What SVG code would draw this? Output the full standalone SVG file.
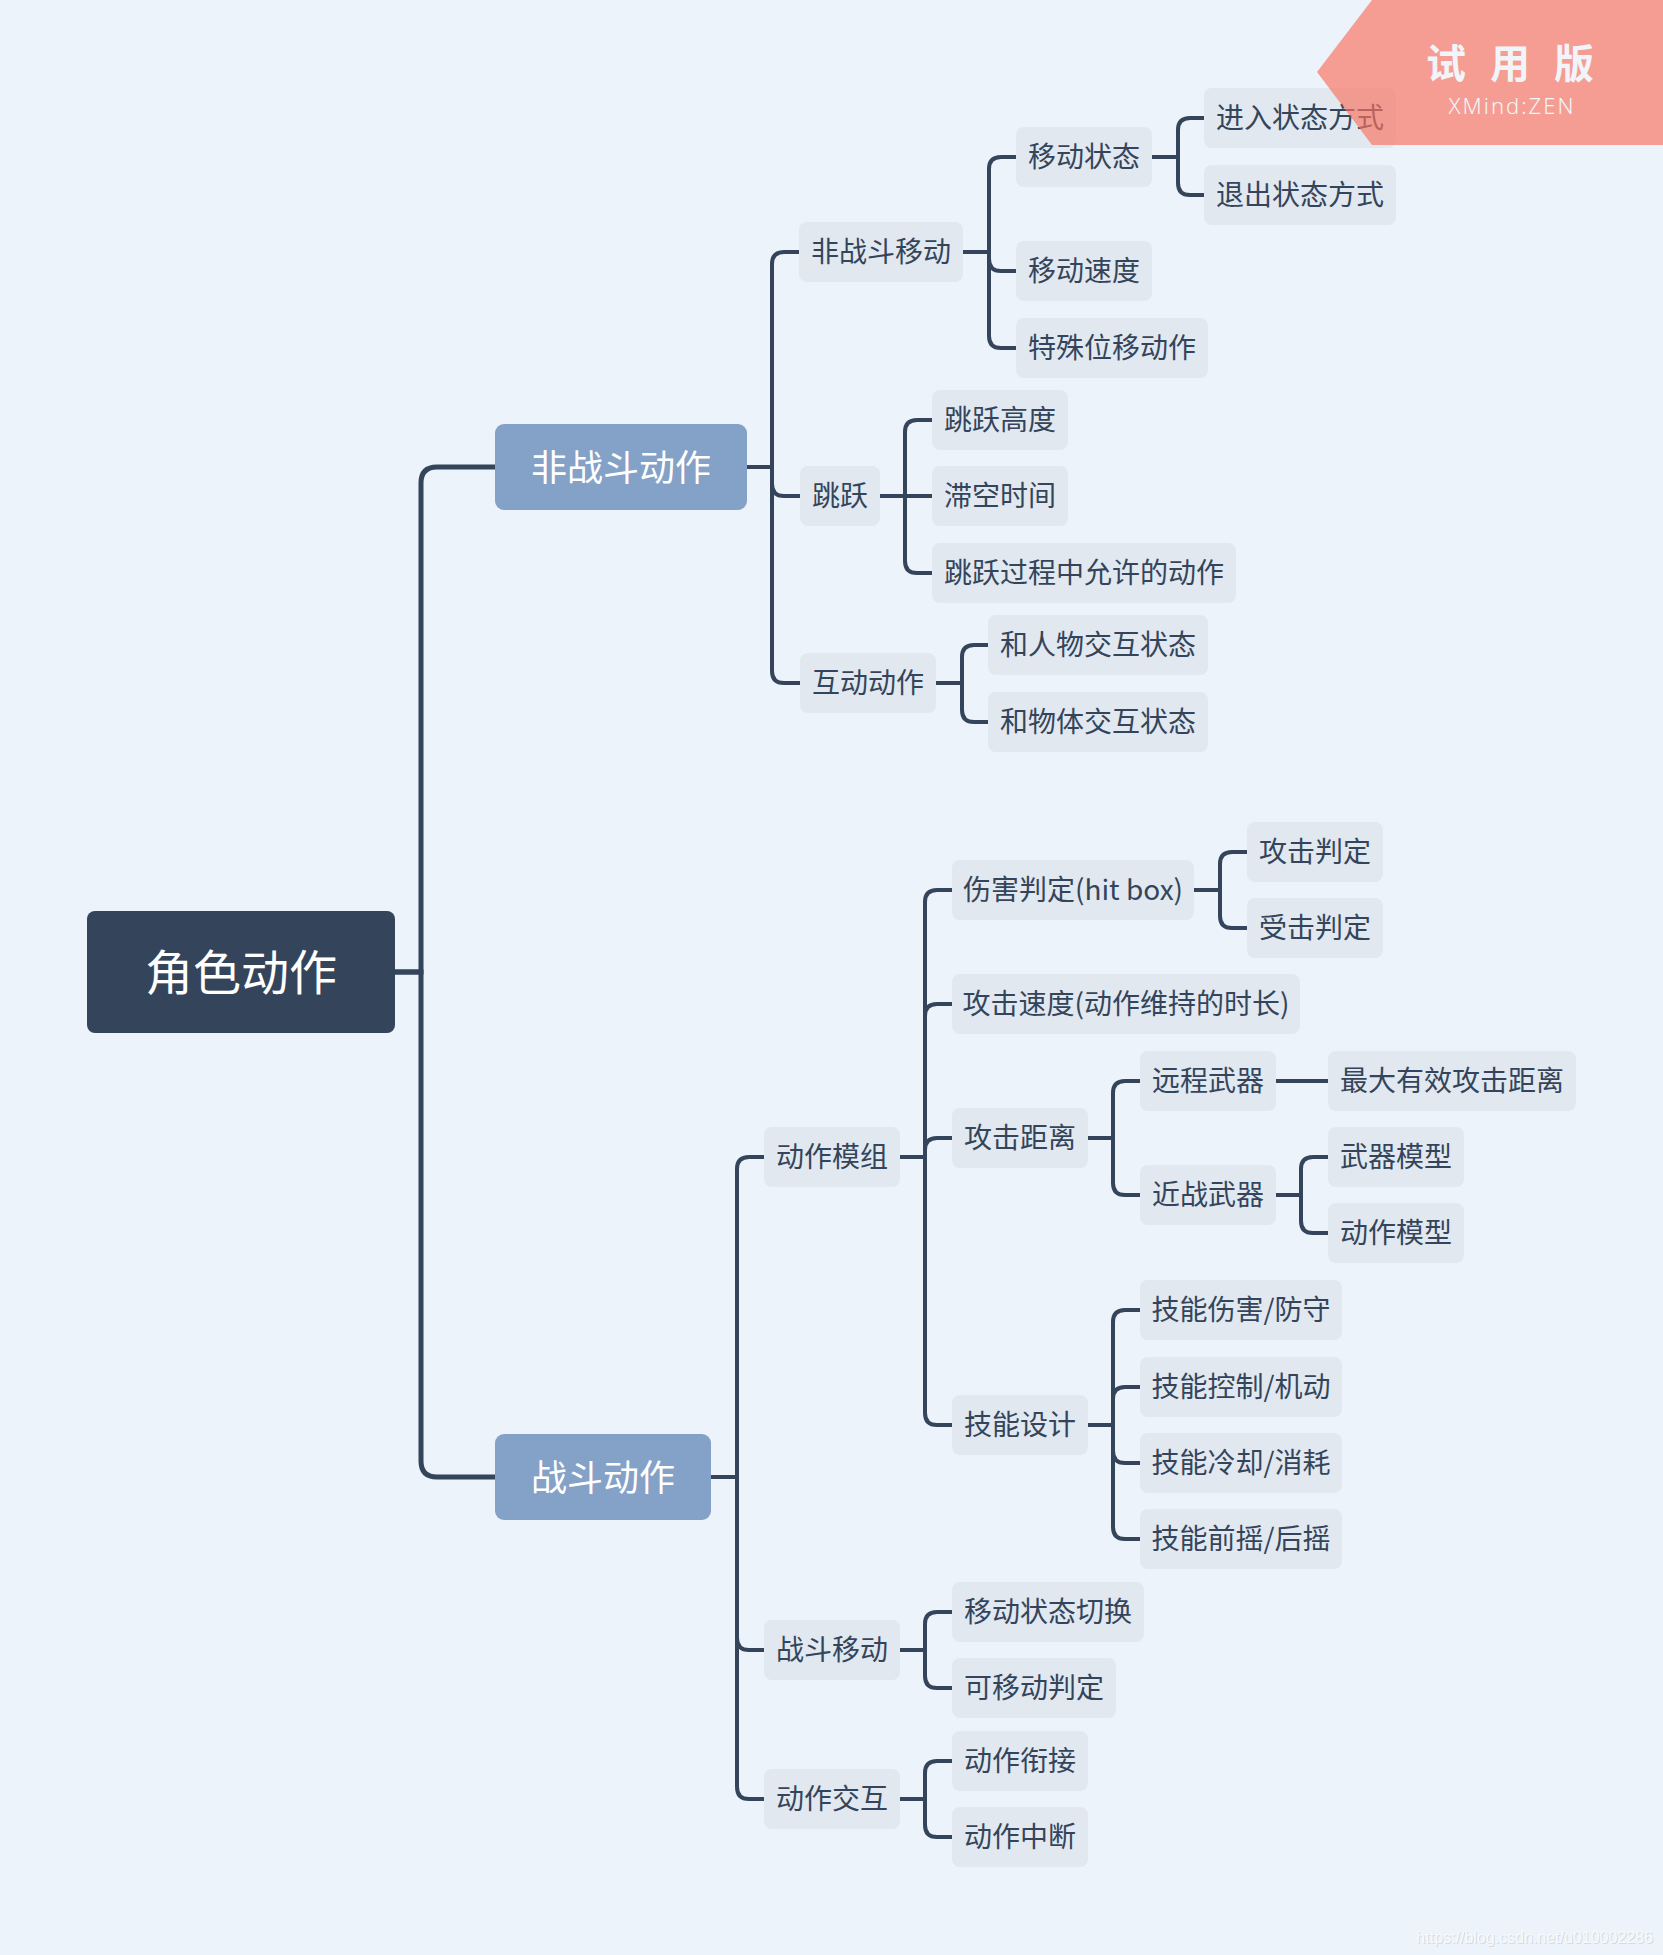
<svg xmlns="http://www.w3.org/2000/svg" width="1663" height="1955" viewBox="0 0 1663 1955">
<style>
.bg{fill:#ECF3FA}
.t rect{fill:#E1E8F0}
.t text{font-family:"Noto Sans CJK SC","Noto Sans",sans-serif;font-size:28px;fill:#34455B;text-anchor:middle}
.l1 rect{fill:#84A1C8}
.l1 text{font-family:"Noto Sans CJK SC","Noto Sans",sans-serif;font-size:36px;fill:#FFFFFF;text-anchor:middle}
.root rect{fill:#34455B}
.root text{font-family:"Noto Sans CJK SC","Noto Sans",sans-serif;font-size:48px;fill:#FFFFFF;text-anchor:middle}
#connectors path{fill:none;stroke:#34455B;stroke-width:4}
#connectors path.main{stroke-width:5}
</style>
<rect class="bg" x="0" y="0" width="1663" height="1955"/>

<g id="connectors">
<path class="main" d="M395,972 H421 V483 Q421,467 437,467 H495"/>
<path class="main" d="M395,972 H421 V1461 Q421,1477 437,1477 H495"/>
<path d="M747,467 H772 V264 Q772,252 784,252 H799"/>
<path d="M747,467 H772 V484 Q772,496 784,496 H800"/>
<path d="M747,467 H772 V671 Q772,683 784,683 H800"/>
<path d="M963,252 H989 V169 Q989,157 1001,157 H1016"/>
<path d="M963,252 H989 V259 Q989,271 1001,271 H1016"/>
<path d="M963,252 H989 V336 Q989,348 1001,348 H1016"/>
<path d="M1152,157 H1178 V130 Q1178,118 1190,118 H1204"/>
<path d="M1152,157 H1178 V183 Q1178,195 1190,195 H1204"/>
<path d="M880,496 H905 V432 Q905,420 917,420 H932"/>
<path d="M880,496 H932"/>
<path d="M880,496 H905 V561 Q905,573 917,573 H932"/>
<path d="M936,683 H962 V657 Q962,645 974,645 H988"/>
<path d="M936,683 H962 V710 Q962,722 974,722 H988"/>
<path d="M711,1477 H737 V1169 Q737,1157 749,1157 H764"/>
<path d="M711,1477 H737 V1638 Q737,1650 749,1650 H764"/>
<path d="M711,1477 H737 V1787 Q737,1799 749,1799 H764"/>
<path d="M900,1157 H925 V902 Q925,890 937,890 H952"/>
<path d="M900,1157 H925 V1016 Q925,1004 937,1004 H952"/>
<path d="M900,1157 H925 V1150 Q925,1138 937,1138 H952"/>
<path d="M900,1157 H925 V1413 Q925,1425 937,1425 H952"/>
<path d="M1194,890 H1220 V864 Q1220,852 1232,852 H1247"/>
<path d="M1194,890 H1220 V916 Q1220,928 1232,928 H1247"/>
<path d="M1088,1138 H1113 V1093 Q1113,1081 1125,1081 H1140"/>
<path d="M1088,1138 H1113 V1183 Q1113,1195 1125,1195 H1140"/>
<path d="M1276,1081 H1328"/>
<path d="M1276,1195 H1301 V1169 Q1301,1157 1313,1157 H1328"/>
<path d="M1276,1195 H1301 V1221 Q1301,1233 1313,1233 H1328"/>
<path d="M1088,1425 H1113 V1322 Q1113,1310 1125,1310 H1140"/>
<path d="M1088,1425 H1113 V1399 Q1113,1387 1125,1387 H1140"/>
<path d="M1088,1425 H1113 V1451 Q1113,1463 1125,1463 H1140"/>
<path d="M1088,1425 H1113 V1527 Q1113,1539 1125,1539 H1140"/>
<path d="M900,1650 H925 V1624 Q925,1612 937,1612 H952"/>
<path d="M900,1650 H925 V1676 Q925,1688 937,1688 H952"/>
<path d="M900,1799 H925 V1773 Q925,1761 937,1761 H952"/>
<path d="M900,1799 H925 V1825 Q925,1837 937,1837 H952"/>
</g>

<g id="n-root" class="root"><rect x="87" y="911" width="308" height="122" rx="8"/><text x="241" y="990">角色动作</text></g>

<g id="n-feizhandou" class="l1"><rect x="495" y="424" width="252" height="86" rx="9"/><text x="621" y="481">非战斗动作</text></g>
<g id="n-zhandou" class="l1"><rect x="495" y="1434" width="216" height="86" rx="9"/><text x="603" y="1491">战斗动作</text></g>

<g id="n-fzdyd" class="t"><rect x="799" y="222" width="164" height="60" rx="8"/><text x="881" y="262">非战斗移动</text></g>
<g id="n-tiaoyue" class="t"><rect x="800" y="466" width="80" height="60" rx="8"/><text x="840" y="506">跳跃</text></g>
<g id="n-hudong" class="t"><rect x="800" y="653" width="136" height="60" rx="8"/><text x="868" y="693">互动动作</text></g>

<g id="n-ydzt" class="t"><rect x="1016" y="127" width="136" height="60" rx="8"/><text x="1084" y="167">移动状态</text></g>
<g id="n-ydsd" class="t"><rect x="1016" y="241" width="136" height="60" rx="8"/><text x="1084" y="281">移动速度</text></g>
<g id="n-tswy" class="t"><rect x="1016" y="318" width="192" height="60" rx="8"/><text x="1112" y="358">特殊位移动作</text></g>
<g id="n-jrzt" class="t"><rect x="1204" y="88" width="192" height="60" rx="8"/><text x="1300" y="128">进入状态方式</text></g>
<g id="n-tczt" class="t"><rect x="1204" y="165" width="192" height="60" rx="8"/><text x="1300" y="205">退出状态方式</text></g>

<g id="n-tygd" class="t"><rect x="932" y="390" width="136" height="60" rx="8"/><text x="1000" y="430">跳跃高度</text></g>
<g id="n-zksj" class="t"><rect x="932" y="466" width="136" height="60" rx="8"/><text x="1000" y="506">滞空时间</text></g>
<g id="n-tygc" class="t"><rect x="932" y="543" width="304" height="60" rx="8"/><text x="1084" y="583">跳跃过程中允许的动作</text></g>

<g id="n-hrw" class="t"><rect x="988" y="615" width="220" height="60" rx="8"/><text x="1098" y="655">和人物交互状态</text></g>
<g id="n-hwt" class="t"><rect x="988" y="692" width="220" height="60" rx="8"/><text x="1098" y="732">和物体交互状态</text></g>

<g id="n-dzmz" class="t"><rect x="764" y="1127" width="136" height="60" rx="8"/><text x="832" y="1167">动作模组</text></g>
<g id="n-zdyd" class="t"><rect x="764" y="1620" width="136" height="60" rx="8"/><text x="832" y="1660">战斗移动</text></g>
<g id="n-dzjh" class="t"><rect x="764" y="1769" width="136" height="60" rx="8"/><text x="832" y="1809">动作交互</text></g>

<g id="n-shpd" class="t"><rect x="952" y="860" width="242" height="60" rx="8"/><text x="1073" y="900">伤害判定(hit box)</text></g>
<g id="n-gjsd" class="t"><rect x="952" y="974" width="348" height="60" rx="8"/><text x="1126" y="1014">攻击速度(动作维持的时长)</text></g>
<g id="n-gjjl" class="t"><rect x="952" y="1108" width="136" height="60" rx="8"/><text x="1020" y="1148">攻击距离</text></g>
<g id="n-jnsj" class="t"><rect x="952" y="1395" width="136" height="60" rx="8"/><text x="1020" y="1435">技能设计</text></g>
<g id="n-ydztqh" class="t"><rect x="952" y="1582" width="192" height="60" rx="8"/><text x="1048" y="1622">移动状态切换</text></g>
<g id="n-kydpd" class="t"><rect x="952" y="1658" width="164" height="60" rx="8"/><text x="1034" y="1698">可移动判定</text></g>
<g id="n-dzxj" class="t"><rect x="952" y="1731" width="136" height="60" rx="8"/><text x="1020" y="1771">动作衔接</text></g>
<g id="n-dzzd" class="t"><rect x="952" y="1807" width="136" height="60" rx="8"/><text x="1020" y="1847">动作中断</text></g>

<g id="n-gjpd" class="t"><rect x="1247" y="822" width="136" height="60" rx="8"/><text x="1315" y="862">攻击判定</text></g>
<g id="n-sjpd" class="t"><rect x="1247" y="898" width="136" height="60" rx="8"/><text x="1315" y="938">受击判定</text></g>
<g id="n-ycwq" class="t"><rect x="1140" y="1051" width="136" height="60" rx="8"/><text x="1208" y="1091">远程武器</text></g>
<g id="n-jzwq" class="t"><rect x="1140" y="1165" width="136" height="60" rx="8"/><text x="1208" y="1205">近战武器</text></g>
<g id="n-zdyx" class="t"><rect x="1328" y="1051" width="248" height="60" rx="8"/><text x="1452" y="1091">最大有效攻击距离</text></g>
<g id="n-wqmx" class="t"><rect x="1328" y="1127" width="136" height="60" rx="8"/><text x="1396" y="1167">武器模型</text></g>
<g id="n-dzmx" class="t"><rect x="1328" y="1203" width="136" height="60" rx="8"/><text x="1396" y="1243">动作模型</text></g>
<g id="n-jn1" class="t"><rect x="1140" y="1280" width="202" height="60" rx="8"/><text x="1241" y="1320">技能伤害/防守</text></g>
<g id="n-jn2" class="t"><rect x="1140" y="1357" width="202" height="60" rx="8"/><text x="1241" y="1397">技能控制/机动</text></g>
<g id="n-jn3" class="t"><rect x="1140" y="1433" width="202" height="60" rx="8"/><text x="1241" y="1473">技能冷却/消耗</text></g>
<g id="n-jn4" class="t"><rect x="1140" y="1509" width="202" height="60" rx="8"/><text x="1241" y="1549">技能前摇/后摇</text></g>

<g id="watermark">
<polygon points="1317,72 1372,0 1663,0 1663,145 1372,145" fill="#F97360" fill-opacity="0.67"/>
<text x="1522" y="78" font-family="Noto Sans CJK SC, sans-serif" font-size="40" font-weight="bold" fill="#F1F5F9" text-anchor="middle" letter-spacing="24">试用版</text>
<text x="1512" y="114" font-family="Noto Sans, sans-serif" font-size="22" font-weight="300" fill="#F1F5F9" text-anchor="middle" letter-spacing="2">XMind:ZEN</text>
</g>
<g id="csdn">
<text x="1654" y="1944" font-family="Liberation Sans, sans-serif" font-size="16" fill="#D3DAE1" text-anchor="end">https://blog.csdn.net/u010002286</text>
<text x="1653" y="1943" font-family="Liberation Sans, sans-serif" font-size="16" fill="#F7FAFC" text-anchor="end">https://blog.csdn.net/u010002286</text>
</g>
</svg>
